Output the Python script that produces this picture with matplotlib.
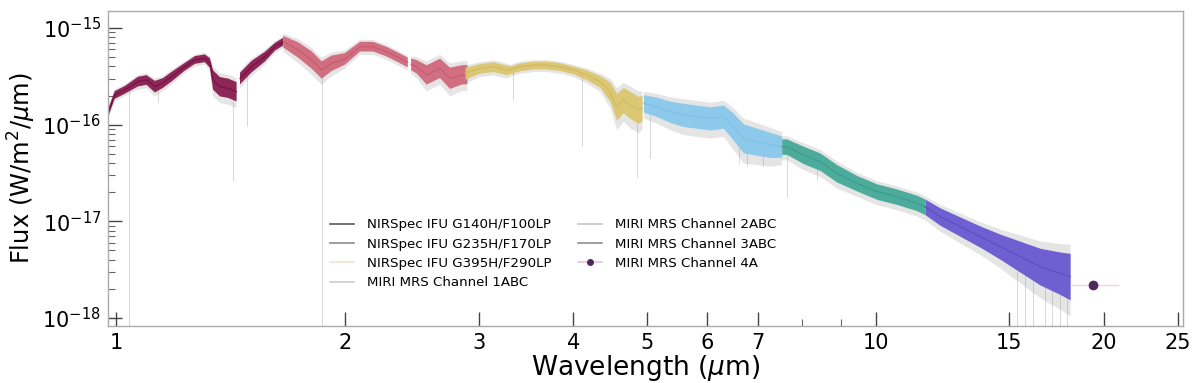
import numpy as np
import matplotlib
matplotlib.use("Agg")
import matplotlib.pyplot as plt
from matplotlib.ticker import FixedLocator, FixedFormatter, NullFormatter
from matplotlib.lines import Line2D

# ---------------- data ----------------
series_labels = ["NIRSpec IFU G140H/F100LP", "NIRSpec IFU G235H/F170LP",
                 "NIRSpec IFU G395H/F290LP", "MIRI MRS Channel 1ABC",
                 "MIRI MRS Channel 2ABC", "MIRI MRS Channel 3ABC",
                 "MIRI MRS Channel 4A"]

g140_wl = [0.975, 0.995, 1.026, 1.068, 1.096, 1.124, 1.152, 1.182, 1.231, 1.269,
           1.308, 1.328, 1.341, 1.369, 1.404, 1.440, np.nan, 1.455, 1.507, 1.569,
           1.618, 1.659]
g140_flux = [1.31e-16, 2.03e-16, 2.29e-16, 2.79e-16, 2.90e-16, 2.47e-16, 2.70e-16,
             3.13e-16, 3.98e-16, 4.67e-16, 4.86e-16, 4.35e-16, 2.90e-16, 2.47e-16,
             2.38e-16, 2.19e-16, np.nan, 3.00e-16, 3.98e-16, 5.05e-16, 6.41e-16, 7.22e-16]
g140_spread = [0.04, 0.04, 0.04, 0.05, 0.05, 0.06, 0.05, 0.05, 0.04, 0.04,
               0.04, 0.05, 0.10, 0.10, 0.10, 0.10, np.nan, 0.06, 0.06, 0.05, 0.04, 0.04]

g235_wl = [1.659, 1.736, 1.808, 1.864, 1.921, 2.000, 2.094, 2.180, 2.270, 2.340,
           2.420, np.nan, 2.445, 2.486, 2.563, 2.669, 2.751, 2.850, 2.900]
g235_flux = [7.22e-16, 5.92e-16, 4.67e-16, 3.68e-16, 4.31e-16, 4.79e-16, 6.41e-16,
             6.41e-16, 5.69e-16, 5.05e-16, 4.40e-16, np.nan, 4.20e-16, 3.98e-16,
             3.27e-16, 3.83e-16, 3.02e-16, 3.27e-16, 3.30e-16]
g235_spread = [0.06, 0.08, 0.09, 0.09, 0.08, 0.06, 0.05, 0.05, 0.05, 0.05,
               0.05, np.nan, 0.06, 0.07, 0.10, 0.10, 0.11, 0.10, 0.10]

g395_wl = [2.879, 3.013, 3.136, 3.267, 3.300, 3.401, 3.541, 3.688, 3.840,
           3.998, 4.164, 4.335, 4.469, 4.560, 4.652, 4.748, 4.870, 4.925]
g395_flux = [3.40e-16, 3.83e-16, 3.98e-16, 3.68e-16, 3.70e-16, 3.98e-16,
             4.14e-16, 4.14e-16, 3.98e-16, 3.68e-16, 3.27e-16, 2.79e-16, 2.19e-16,
             1.53e-16, 1.80e-16, 1.60e-16, 1.42e-16, 1.49e-16]
g395_spread = [0.06, 0.05, 0.05, 0.05, 0.04, 0.04, 0.04, 0.04, 0.04,
               0.04, 0.05, 0.06, 0.10, 0.14, 0.13, 0.14, 0.14, 0.13]

ch1_wl = [4.945, 5.149, 5.361, 5.581, 5.812, 6.053, 6.303, 6.496, 6.695, 6.973,
          7.261, 7.523]
ch1_flux = [1.66e-16, 1.53e-16, 1.36e-16, 1.26e-16, 1.21e-16, 1.16e-16, 1.21e-16,
            9.53e-17, 7.23e-17, 6.67e-17, 6.17e-17, 5.93e-17]
ch1_spread = [0.09, 0.10, 0.11, 0.12, 0.12, 0.12, 0.12, 0.14, 0.15, 0.14, 0.13, 0.11]

ch2_wl = [7.523, 7.638, 8.034, 8.451, 8.889, 9.446, 10.04, 10.66, 11.33, 11.62]
ch2_flux = [5.93e-17, 5.93e-17, 4.86e-17, 4.14e-17, 3.14e-17, 2.48e-17, 2.03e-17,
            1.80e-17, 1.55e-17, 1.41e-17]
ch2_spread = [0.08, 0.08, 0.09, 0.09, 0.09, 0.08, 0.08, 0.08, 0.08, 0.08]

ch3_wl = [11.62, 12.16, 12.92, 13.73, 14.59, 15.50, 16.47, 17.51, 18.04]
ch3_flux = [1.41e-17, 1.12e-17, 8.82e-18, 6.95e-18, 5.47e-18, 4.31e-18, 3.40e-18,
            2.90e-18, 2.68e-18]
ch3_spread = [0.08, 0.09, 0.10, 0.11, 0.13, 0.16, 0.19, 0.22, 0.24]

ch4_wl = [19.36]
ch4_flux = [2.2e-18]
ch4_wl_err_lo = [1.26]
ch4_wl_err_hi = [1.54]

# deep features / bad pixels (grey spikes): wavelength, top and bottom flux
spike_wl = [1.039, 1.134, 1.425, 1.484, 1.864, 3.33, 4.10, 4.85, 5.05, 6.60, 6.77,
            7.10, 7.64, 8.37,
            15.35, 15.74, 16.14, 16.72, 17.07, 17.50, 17.86]
spike_top = [2.3e-16, 2.6e-16, 2.4e-16, 3.3e-16, 3.8e-16, 3.6e-16, 3.5e-16, 1.4e-16,
             1.5e-16, 8.0e-17, 7.0e-17, 6.5e-17, 5.9e-17, 4.1e-17,
             3.6e-18, 3.3e-18, 3.0e-18, 2.8e-18, 2.7e-18, 2.6e-18, 2.5e-18]
spike_bottom = [8e-19, 1.7e-16, 2.6e-17, 9.6e-17, 8e-19, 1.8e-16, 6.0e-17, 2.9e-17,
                4.5e-17, 4.0e-17, 3.7e-17, 3.7e-17, 1.8e-17, 2.7e-17,
                8e-19, 8e-19, 8e-19, 8e-19, 8e-19, 8e-19, 8e-19]

xticks = [1, 2, 3, 4, 5, 6, 7, 10, 15, 20, 25]
xtick_labels = ["1", "2", "3", "4", "5", "6", "7", "10", "15", "20", "25"]
xminor = [8, 9]
yticks = [1e-18, 1e-17, 1e-16, 1e-15]

# ---------------- styling ----------------
colors = ["#8a1c50", "#d0687a", "#dcc66e", "#88c8ec", "#44a896", "#6a58cf", "#4e2a5a"]
line_colors = ["#6e1040", "#c05a6c", "#cdb85e", "#7cbfe4", "#3a9a88", "#5c4ac0"]
handle_colors = ["#5a5a5a", "#8c8c8c", "#ece6cc", "#c9ced6", "#c6c6c6", "#8e8e98", "#e8c4d8"]

fig = plt.figure(figsize=(12, 3.83), dpi=100)
ax = fig.add_axes([0.09, 0.149, 0.8958, 0.8223])
ax.set_xscale("log")
ax.set_yscale("log")

# grey spikes
ax.vlines(spike_wl, spike_bottom, spike_top, color="#bdbdbd", lw=0.7, alpha=0.6, zorder=1)

segments = [(g140_wl, g140_flux, g140_spread), (g235_wl, g235_flux, g235_spread),
            (g395_wl, g395_flux, g395_spread), (ch1_wl, ch1_flux, ch1_spread),
            (ch2_wl, ch2_flux, ch2_spread), (ch3_wl, ch3_flux, ch3_spread)]

for i, (wl, fl, sp) in enumerate(segments):
    wl = np.asarray(wl, float)
    fl = np.asarray(fl, float)
    sp = np.asarray(sp, float)
    lo = fl / 10 ** sp
    hi = fl * 10 ** sp
    lo_g = fl / 10 ** (sp * 1.7)
    hi_g = fl * 10 ** (sp * 1.4)
    z = 2 + i
    ax.fill_between(wl, lo_g, hi_g, color="#9a9a9a", alpha=0.25, lw=0, zorder=z)
    ax.fill_between(wl, lo, hi, color=colors[i], alpha=0.95, lw=0, zorder=z + 0.1)
    ax.plot(wl, fl, color=line_colors[i], lw=0.9, alpha=0.8, zorder=z + 0.2)

ax.errorbar(ch4_wl, ch4_flux, xerr=[ch4_wl_err_lo, ch4_wl_err_hi], fmt="o",
            color=colors[6], ecolor="#f0d2e2", ms=6, elinewidth=1.0, zorder=10)

ax.set_xlim(0.975, 25.4)
ax.set_ylim(10 ** -18.082, 10 ** -14.824)
ylo, yhi = ax.get_ylim()

ax.xaxis.set_major_locator(FixedLocator(xticks))
ax.xaxis.set_major_formatter(FixedFormatter(xtick_labels))
ax.xaxis.set_minor_locator(FixedLocator(xminor))
ax.xaxis.set_minor_formatter(NullFormatter())
ax.yaxis.set_major_locator(FixedLocator(yticks))
yminor = [m * d for d in yticks for m in range(2, 10) if ylo <= m * d <= yhi]
ax.yaxis.set_minor_locator(FixedLocator(yminor))
ax.yaxis.set_minor_formatter(NullFormatter())

ax.tick_params(which="major", direction="in", length=10, width=1.0, color="#444444",
               labelsize=15, top=False, right=False, pad=5)
ax.tick_params(which="minor", direction="in", length=5, width=0.8, color="#666666",
               top=False, right=False)
for s in ax.spines.values():
    s.set_color("#aaaaaa")
    s.set_linewidth(1.0)

ax.set_xlabel("Wavelength ($\\mu$m)", fontsize=19, labelpad=0)
ax.set_ylabel("Flux (W/m$^2$/$\\mu$m)", fontsize=17.5, labelpad=3)

handles = [Line2D([], [], color=c, lw=1.2) for c in handle_colors[:6]]
handles.append(Line2D([], [], color=handle_colors[6], lw=1.2, marker="o",
                      markerfacecolor=colors[6], markeredgecolor=colors[6], ms=4))
ax.legend(handles, series_labels, ncol=2, frameon=False, fontsize=9.6,
          loc="upper left", bbox_to_anchor=(0.195, 0.38), handlelength=1.8,
          handletextpad=1.0, columnspacing=2.0, labelspacing=0.48)

fig.savefig("out.png", dpi=100)
